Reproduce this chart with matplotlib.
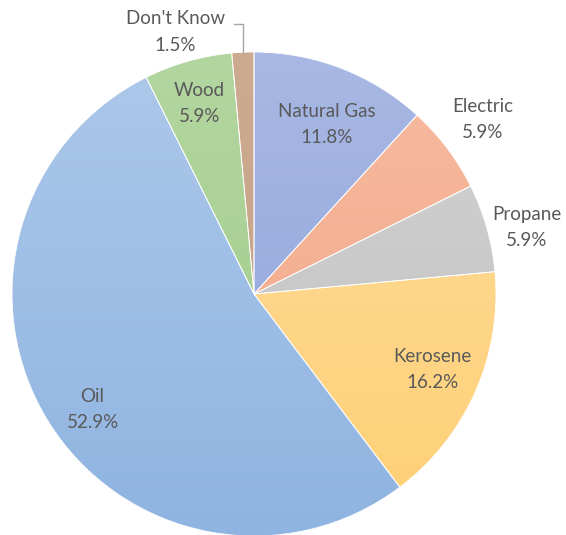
import numpy as np
import matplotlib
matplotlib.use("Agg")
import matplotlib.pyplot as plt
from matplotlib.colors import LinearSegmentedColormap

categories = ["Natural Gas", "Electric", "Propane", "Kerosene", "Oil", "Wood", "Don't Know"]
counts = [8, 4, 4, 11, 36, 4, 1]
top_colors = ["#A9B8E4", "#F6BCA3", "#D3D3D3", "#FEDD9F", "#ADC8EA", "#B3D6A0", "#CDAB90"]
bottom_colors = ["#8BA3DA", "#F3A27E", "#BFBFBF", "#FFCF74", "#8FB4E1", "#9FCB86", "#C09F84"]

# label placement (radius fraction, angle offset in degrees)
label_r = [0.76, 1.19, 1.16, 0.80, 0.82, 0.82, 1.13]
label_dang = [-2.0, 0.3, -2.1, 0.9, 3.8, 0.1, 14.0]

fig = plt.figure(figsize=(5.66, 5.35), dpi=100)
R = 242.0
cx, cy = 254.0, 535 - 294.0
ax = fig.add_axes([(cx - R) / 566, (cy - R) / 535, 2 * R / 566, 2 * R / 535])
ax.set_xlim(-1, 1)
ax.set_ylim(-1, 1)
ax.set_aspect("equal")
ax.axis("off")

wedges, _ = ax.pie(counts, startangle=90, counterclock=False, radius=1.0,
                   colors=top_colors, wedgeprops=dict(edgecolor="white", linewidth=0.6))

grad = np.linspace(0, 1, 256).reshape(-1, 1)
for w, c0, c1 in zip(wedges, top_colors, bottom_colors):
    cmap = LinearSegmentedColormap.from_list("g", [c0, c1])
    im = ax.imshow(grad, cmap=cmap, extent=[-1, 1, -1, 1], origin="upper",
                   aspect="auto", zorder=w.get_zorder() + 0.1)
    im.set_clip_path(w)
    w.set_facecolor("none")
    w.set_zorder(w.get_zorder() + 0.2)

ax.set_xlim(-1, 1)
ax.set_ylim(-1, 1)

total = sum(counts)
text_color = "#595959"
for w, name, n, r, da in zip(wedges, categories, counts, label_r, label_dang):
    mid = (w.theta1 + w.theta2) / 2.0 + da
    x = r * np.cos(np.radians(mid))
    y = r * np.sin(np.radians(mid))
    ax.text(x, y, f"{name}\n{100 * n / total:.1f}%", ha="center", va="center",
            fontsize=13.5, color=text_color, family=["Lato", "DejaVu Sans"],
            linespacing=1.65, zorder=10)

# leader line for the small slice
w = wedges[-1]
mid = np.radians((w.theta1 + w.theta2) / 2.0)
ex, ey = np.cos(mid), np.sin(mid)
ty = 535 - 24.0
ty_d = (ty - cy) / R
tx_d = (234 - cx) / R
ax.plot([tx_d, ex, ex], [ty_d, ty_d, ey], color="#A6A6A6", lw=1.0, clip_on=False, zorder=9)

fig.savefig("out.png", dpi=100)
